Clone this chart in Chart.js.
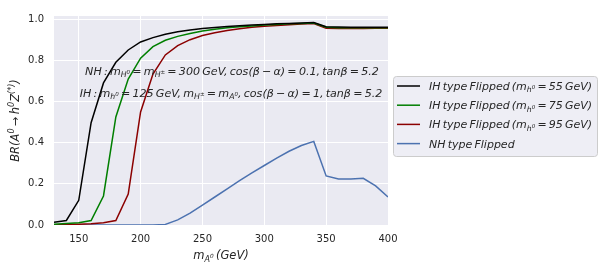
<!DOCTYPE html>
<html>
<head>
<meta charset="utf-8">
<script src="https://cdn.jsdelivr.net/npm/chart.js@4"></script>
<style>
  html, body { margin: 0; padding: 0; background: #fff; }
  canvas { display: block; }
</style>
</head>
<body>
<canvas id="chart" width="603" height="271"></canvas>
<script>
// Data
const massA = [130, 140, 150, 160, 170, 180, 190, 200, 210, 220, 230, 240, 250, 260,
               270, 280, 290, 300, 310, 320, 330, 340, 350, 360, 370, 380, 390, 400];

const ih55 = [0.013, 0.022, 0.12, 0.497, 0.69, 0.79, 0.85, 0.889, 0.91, 0.926, 0.938, 0.947, 0.954, 0.959,
              0.964, 0.968, 0.971, 0.974, 0.977, 0.979, 0.981, 0.983, 0.963, 0.961, 0.960, 0.960, 0.960, 0.960];
const ih75 = [0.004, 0.007, 0.011, 0.022, 0.141, 0.525, 0.709, 0.81, 0.866, 0.897, 0.916, 0.93, 0.942, 0.951,
              0.958, 0.963, 0.967, 0.971, 0.974, 0.977, 0.979, 0.981, 0.960, 0.958, 0.958, 0.958, 0.958, 0.958];
const ih95 = [0.0, 0.002, 0.004, 0.006, 0.011, 0.022, 0.15, 0.549, 0.733, 0.826, 0.871, 0.9, 0.92, 0.934,
              0.945, 0.953, 0.96, 0.965, 0.969, 0.973, 0.976, 0.978, 0.956, 0.954, 0.954, 0.954, 0.955, 0.955];
const nh = [0.0, 0.0, 0.0, 0.0, 0.0, 0.0, 0.0, 0.0, 0.0, 0.003, 0.025, 0.058, 0.097, 0.136,
            0.176, 0.215, 0.253, 0.289, 0.325, 0.358, 0.386, 0.406, 0.238, 0.223, 0.224, 0.227, 0.19, 0.136];

const xTicks = [150, 200, 250, 300, 350, 400];
const yTicks = [0, 0.2, 0.4, 0.6, 0.8, 1.0];

const seriesNames = [
  [['IH\u2009type\u2009Flipped\u2009(m', 'n'], ['h', 'sub'], ['0', 'ss'], ['\u2009=\u200955\u2009GeV)', 'n']],
  [['IH\u2009type\u2009Flipped\u2009(m', 'n'], ['h', 'sub'], ['0', 'ss'], ['\u2009=\u200975\u2009GeV)', 'n']],
  [['IH\u2009type\u2009Flipped\u2009(m', 'n'], ['h', 'sub'], ['0', 'ss'], ['\u2009=\u200995\u2009GeV)', 'n']],
  [['NH\u2009type\u2009Flipped', 'n']]
];
const seriesColors = ['#000000', '#007f00', '#8b0000', '#4c72b0'];

const noteNH = [['NH\u2009:\u2009m', 'n'], ['H', 'sub'], ['0', 'ss'], ['\u2009=\u2009m', 'n'], ['H', 'sub'], ['\u00b1', 'ss'],
  ['\u2009=\u2009300\u2009GeV,\u2009cos(\u03b2\u2009\u2212\u2009\u03b1)\u2009=\u20090.1,\u2009tan\u03b2\u2009=\u20095.2', 'n']];
const noteIH = [['IH\u2009:\u2009m', 'n'], ['h', 'sub'], ['0', 'ss'], ['\u2009=\u2009125\u2009GeV,\u2009m', 'n'], ['H', 'sub'], ['\u00b1', 'ss'],
  ['\u2009=\u2009m', 'n'], ['A', 'sub'], ['0', 'ss'], [',\u2009cos(\u03b2\u2009\u2212\u2009\u03b1)\u2009=\u20091,\u2009tan\u03b2\u2009=\u20095.2', 'n']];
const xTitle = [['m', 'n'], ['A', 'sub'], ['0', 'ss'], ['\u2009(GeV)', 'n']];
const yTitle = [['BR(A', 'n'], ['0', 'sup'], ['\u2009\u2192\u2009h', 'n'], ['0', 'sup'], ['Z', 'n'], ['(*)', 'sup'], [')', 'n']];

const textColor = '#262626';
const levels = {n: {s: 1, dy: 0}, sub: {s: 0.7, dy: 0.22}, ss: {s: 0.5, dy: -0.05}, sup: {s: 0.7, dy: -0.4}};

function richWidth(ctx, segs, size) {
  let w = 0;
  for (const [t, l] of segs) {
    ctx.font = `italic ${size * levels[l].s}px "DejaVu Sans"`;
    w += ctx.measureText(t).width;
  }
  return w;
}

function drawRich(ctx, segs, x, y, size, align) {
  const w = richWidth(ctx, segs, size);
  let cx = align === 'center' ? x - w / 2 : x;
  ctx.textBaseline = 'alphabetic';
  ctx.textAlign = 'left';
  for (const [t, l] of segs) {
    ctx.font = `italic ${size * levels[l].s}px "DejaVu Sans"`;
    ctx.fillText(t, cx, y + levels[l].dy * size);
    cx += ctx.measureText(t).width;
  }
}

const decor = {
  id: 'decor',
  beforeDraw(chart) {
    const {ctx, chartArea: a} = chart;
    ctx.save();
    ctx.fillStyle = '#eaeaf2';
    ctx.fillRect(a.left, a.top, a.right - a.left, a.bottom - a.top);
    ctx.restore();
  },
  afterDraw(chart) {
    const {ctx, chartArea: a} = chart;
    ctx.save();
    ctx.fillStyle = textColor;

    // annotations inside the plot
    drawRich(ctx, noteNH, 232, 75, 11.1, 'center');
    drawRich(ctx, noteIH, 231, 97, 11.1, 'center');

    // axis titles
    drawRich(ctx, xTitle, (a.left + a.right) / 2, 259, 11.5, 'center');
    ctx.save();
    ctx.translate(19, (a.top + a.bottom) / 2);
    ctx.rotate(-Math.PI / 2);
    drawRich(ctx, yTitle, 0, 0, 11.5, 'center');
    ctx.restore();

    // legend
    const lx = 393, ly = 76, lw = 204, lh = 80;
    ctx.beginPath();
    ctx.roundRect(lx + 0.5, ly + 0.5, lw, lh, 3);
    ctx.fillStyle = 'rgba(234,234,242,0.8)';
    ctx.fill();
    ctx.strokeStyle = '#cccccc';
    ctx.lineWidth = 1;
    ctx.stroke();
    seriesNames.forEach((name, i) => {
      const cy = 86 + i * 19.2;
      ctx.beginPath();
      ctx.moveTo(397, cy);
      ctx.lineTo(420, cy);
      ctx.strokeStyle = seriesColors[i];
      ctx.lineWidth = 1.5;
      ctx.stroke();
      ctx.fillStyle = textColor;
      drawRich(ctx, name, 429, cy + 4, 11, 'left');
    });
    ctx.restore();
  }
};

const toPoints = ys => massA.map((x, i) => ({x: x, y: ys[i]}));

new Chart(document.getElementById('chart').getContext('2d'), {
  type: 'line',
  data: {
    datasets: [ih55, ih75, ih95, nh].map((ys, i) => ({
      data: toPoints(ys),
      borderColor: seriesColors[i],
      borderWidth: 1.5,
      pointRadius: 0,
      tension: 0,
      fill: false
    }))
  },
  options: {
    responsive: false,
    animation: false,
    layout: {padding: {left: 0, right: 215, top: 8, bottom: 0}},
    plugins: {legend: {display: false}, tooltip: {enabled: false}},
    scales: {
      x: {
        type: 'linear',
        min: 130,
        max: 400,
        afterBuildTicks: s => { s.ticks = xTicks.map(v => ({value: v})); },
        afterFit: s => { s.height = 46; },
        grid: {color: '#ffffff', lineWidth: 1, drawTicks: false},
        border: {display: false},
        ticks: {color: textColor, font: {family: 'DejaVu Sans', size: 10}, padding: 8, maxRotation: 0}
      },
      y: {
        min: 0,
        max: 1.015,
        afterBuildTicks: s => { s.ticks = yTicks.map(v => ({value: v})); },
        afterFit: s => { s.width = 54; },
        grid: {color: '#ffffff', lineWidth: 1, drawTicks: false},
        border: {display: false},
        ticks: {color: textColor, font: {family: 'DejaVu Sans', size: 10}, padding: 10,
                callback: v => v.toFixed(1)}
      }
    }
  },
  plugins: [decor]
});
</script>
</body>
</html>
